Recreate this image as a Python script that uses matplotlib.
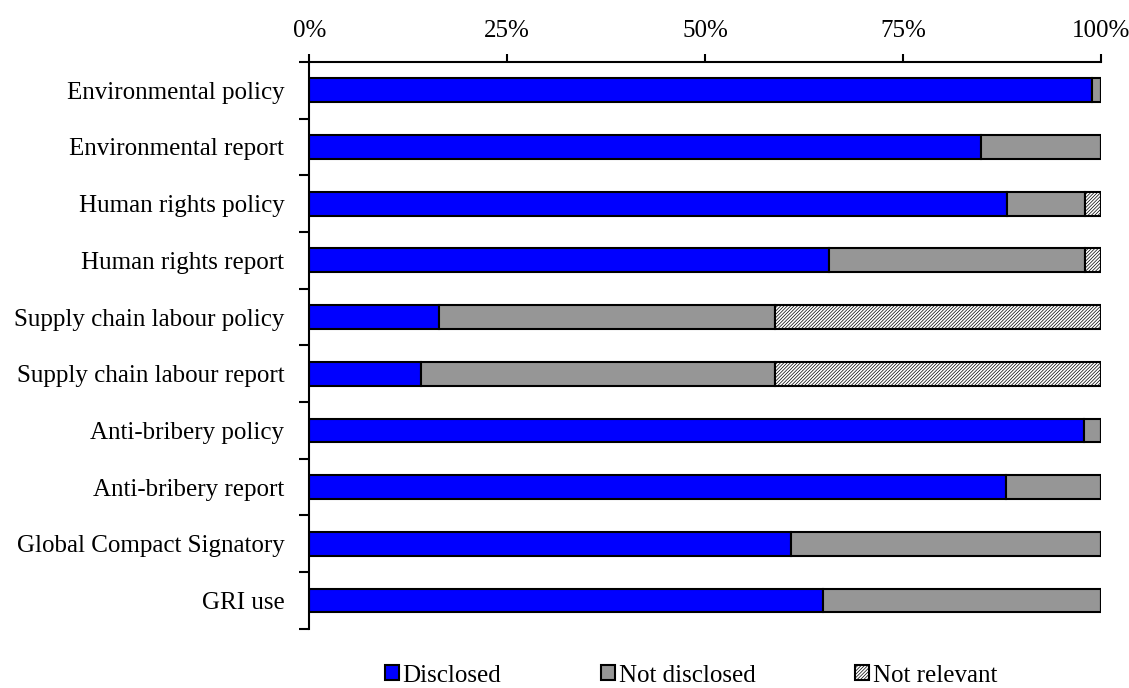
import numpy as np
import matplotlib.pyplot as plt
from matplotlib.patches import Patch
from matplotlib.ticker import FixedLocator, PercentFormatter

plt.rcParams['font.family'] = ['Liberation Serif', 'DejaVu Serif']
plt.rcParams['hatch.linewidth'] = 0.5
plt.rcParams['hatch.color'] = '#333333'

# Share of companies per indicator (percent)
categories = ['Environmental policy', 'Environmental report', 'Human rights policy',
              'Human rights report', 'Supply chain labour policy', 'Supply chain labour report',
              'Anti-bribery policy', 'Anti-bribery report', 'Global Compact Signatory', 'GRI use']
disclosed = [98.9, 84.9, 88.2, 65.7, 16.4, 14.1, 97.9, 88.0, 60.8, 64.9]
not_disclosed = [1.1, 15.1, 9.8, 32.3, 42.4, 44.7, 2.1, 12.0, 39.2, 35.1]
not_relevant = [0.0, 0.0, 2.0, 2.0, 41.2, 41.2, 0.0, 0.0, 0.0, 0.0]

fig = plt.figure(figsize=(11.29, 6.88), dpi=100)
ax = fig.add_axes([0.274, 0.086, 0.701, 0.824])

fs = 18
y = np.arange(len(categories))
d = np.array(disclosed)
nd = np.array(not_disclosed)
nr = np.array(not_relevant)
h = 0.42
ax.barh(y, d, height=h, color='#0000ff', edgecolor='black', linewidth=1.5)
ax.barh(y, nd, left=d, height=h, color='#969696', edgecolor='black', linewidth=1.5)
ax.barh(y, nr, left=d + nd, height=h, color='white', edgecolor='black', linewidth=1.5,
        hatch='//////////')

ax.set_xlim(0, 100)
ax.set_ylim(len(categories) - 0.5, -0.5)
ax.xaxis.tick_top()
ax.set_xticks([0, 25, 50, 75, 100])
ax.xaxis.set_major_formatter(PercentFormatter(decimals=0))
ax.tick_params(axis='x', direction='out', length=6, width=1.5, labelsize=fs, pad=8)

ax.set_yticks(y)
ax.set_yticklabels(categories)
ax.tick_params(axis='y', which='major', length=0, labelsize=fs, pad=18)
ax.yaxis.set_minor_locator(FixedLocator(np.arange(len(categories) + 1) - 0.5))
ax.tick_params(axis='y', which='minor', direction='out', length=7, width=1.5)

for s in ['right', 'bottom']:
    ax.spines[s].set_visible(False)
for s in ['left', 'top']:
    ax.spines[s].set_linewidth(1.5)

handles = [Patch(facecolor='#0000ff', edgecolor='black', linewidth=1.5, label='Disclosed'),
           Patch(facecolor='#969696', edgecolor='black', linewidth=1.5, label='Not disclosed'),
           Patch(facecolor='white', edgecolor='black', linewidth=1.5, hatch='//////////',
                 label='Not relevant')]
fig.legend(handles=handles, loc='center', bbox_to_anchor=(0.612, 0.018), ncol=3,
           frameon=False, fontsize=fs, handlelength=0.55, handleheight=0.55,
           handletextpad=0.15, columnspacing=4.0)

fig.savefig('out.png', dpi=100)
